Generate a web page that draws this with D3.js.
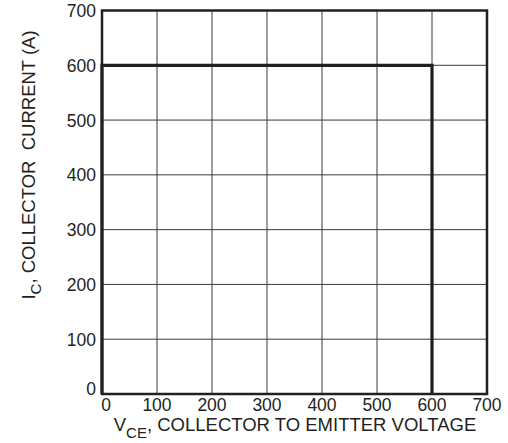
<!DOCTYPE html>
<html lang="en">
<head>
<meta charset="UTF-8">
<title>Safe Operating Area</title>
<script src="https://d3js.org/d3.v7.min.js"></script>
<style>
  html, body { margin: 0; padding: 0; background: #fff; }
  text { font-family: "Liberation Sans", Arial, sans-serif; fill: #231f20; }
</style>
</head>
<body>
<svg id="chart" width="508" height="443"></svg>
<script>
// axis ticks
const xTicks = [0, 100, 200, 300, 400, 500, 600, 700];
const yTicks = [0, 100, 200, 300, 400, 500, 600, 700];

// SOA boundary (V_CE in V, I_C in A)
const soaVce = [0, 0, 600, 600];
const soaIc = [0, 600, 600, 0];

const svg = d3.select("#chart");
const plotL = 102, plotR = 487, plotT = 10.5, plotB = 394;

const x = d3.scaleLinear().domain([0, 700]).range([plotL, plotR]);
const y = d3.scaleLinear().domain([0, 700]).range([plotB, plotT]);

// grid
svg.append("g").selectAll("line").data(xTicks.slice(1, -1)).enter().append("line")
  .attr("x1", d => x(d)).attr("x2", d => x(d))
  .attr("y1", plotT).attr("y2", plotB)
  .attr("stroke", "#3a3a3a").attr("stroke-width", 1);
svg.append("g").selectAll("line").data(yTicks.slice(1, -1)).enter().append("line")
  .attr("y1", d => y(d)).attr("y2", d => y(d))
  .attr("x1", plotL).attr("x2", plotR)
  .attr("stroke", "#3a3a3a").attr("stroke-width", 1);

// frame
svg.append("rect")
  .attr("x", plotL).attr("y", plotT)
  .attr("width", plotR - plotL).attr("height", plotB - plotT)
  .attr("fill", "none").attr("stroke", "#231f20").attr("stroke-width", 2.5);

// SOA curve
const line = d3.line().x(d => x(d[0])).y(d => y(d[1]));
svg.append("path")
  .datum(soaVce.map((v, i) => [v, soaIc[i]]))
  .attr("d", line)
  .attr("fill", "none").attr("stroke", "#231f20").attr("stroke-width", 3.2);

// tick labels
svg.append("g").selectAll("text").data(xTicks).enter().append("text")
  .attr("x", d => x(d) + (d === 0 ? 4 : 0))
  .attr("y", 411)
  .attr("text-anchor", "middle")
  .attr("font-size", 17.5)
  .text(d => d);
svg.append("g").selectAll("text").data(yTicks).enter().append("text")
  .attr("x", 96)
  .attr("y", d => y(d) + (d === 0 ? 1 : 6.5))
  .attr("text-anchor", "end")
  .attr("font-size", 17.5)
  .text(d => d);

// x label
const xl = svg.append("text")
  .attr("x", 295).attr("y", 431)
  .attr("text-anchor", "middle")
  .attr("font-size", 18.5);
xl.append("tspan").text("V");
xl.append("tspan").attr("dy", 7).attr("font-size", 15).text("CE");
xl.append("tspan").attr("dy", -7).text(", COLLECTOR TO EMITTER VOLTAGE");

// y label
const yl = svg.append("text")
  .attr("transform", "translate(35,165) rotate(-90)")
  .attr("text-anchor", "middle")
  .attr("font-size", 18.5)
  .style("white-space", "pre");
yl.append("tspan").text("I");
yl.append("tspan").attr("dy", 6).attr("font-size", 15).text("C");
yl.append("tspan").attr("dy", -6).text(", COLLECTOR  CURRENT (A)");
</script>
</body>
</html>
